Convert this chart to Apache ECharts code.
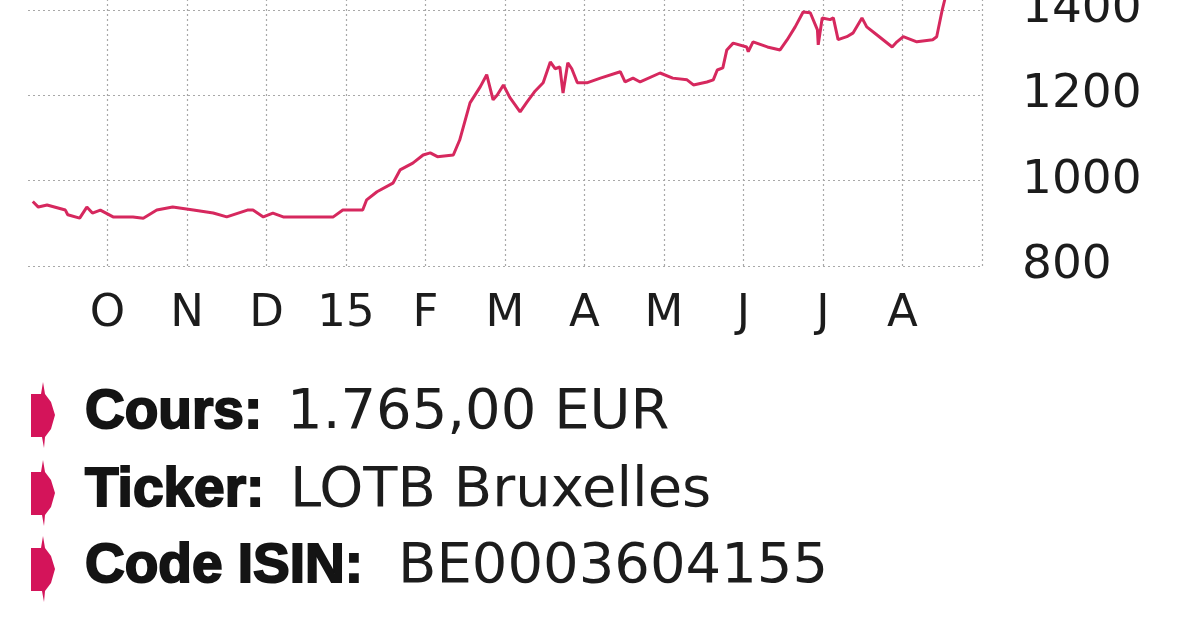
<!DOCTYPE html>
<html>
<head>
<meta charset="utf-8">
<script src="https://cdn.jsdelivr.net/npm/echarts@6/dist/echarts.min.js"></script>
<style>
html,body{margin:0;padding:0;background:#fff;overflow:hidden;width:1200px;height:627px;}
#chart{position:absolute;left:0;top:-161px;width:1200px;height:788px;}
</style>
</head>
<body>
<div id="chart"></div>
<script>
// x position in months since 1 Sep 2014 (1 = Oct, 4 = Jan 2015 ...)
const monthPos = [0.06,0.13,0.24,0.47,0.50,0.65,0.74,0.81,0.91,1.07,1.32,1.45,1.62,1.82,2.08,2.33,2.50,2.76,2.83,2.96,3.08,3.21,3.84,3.96,4.21,4.26,4.39,4.59,4.68,4.84,4.97,5.06,5.15,5.35,5.43,5.56,5.69,5.77,5.85,5.90,5.98,6.06,6.19,6.28,6.38,6.48,6.57,6.63,6.69,6.73,6.79,6.84,6.91,7.03,7.20,7.45,7.51,7.61,7.70,7.95,8.11,8.29,8.37,8.54,8.62,8.67,8.74,8.79,8.87,9.04,9.06,9.12,9.30,9.46,9.55,9.65,9.75,9.84,9.93,9.94,9.99,10.09,10.13,10.19,10.30,10.38,10.49,10.55,10.68,10.87,10.93,11.01,11.18,11.38,11.43,11.50,11.54,11.60,11.66,11.72,11.76];
const prices = [951,938,943,931,920,912,938,924,931,915,915,912,931,938,931,924,915,931,931,915,924,915,915,931,931,955,974,994,1025,1041,1060,1065,1056,1060,1095,1182,1220,1248,1189,1200,1224,1195,1161,1185,1210,1229,1278,1262,1266,1205,1276,1262,1229,1229,1240,1255,1231,1240,1231,1252,1240,1236,1224,1231,1236,1259,1264,1306,1322,1313,1302,1325,1313,1306,1330,1360,1395,1393,1353,1318,1381,1377,1381,1330,1337,1346,1381,1360,1341,1313,1325,1337,1325,1330,1337,1400,1430,1600,1765,1560,1425];
const monthLabels = ['', 'O', 'N', 'D', '15', 'F', 'M', 'A', 'M', 'J', 'J', 'A', ''];
const yTicks = [800, 1000, 1200, 1400, 1600, 1800];
const infoLabels = ['Cours:', 'Ticker:', 'Code ISIN:'];
const infoValues = ['1.765,00 EUR', 'LOTB Bruxelles', 'BE0003604155'];

const chart = echarts.init(document.getElementById('chart'));
const series = monthPos.map((m, i) => [m, prices[i]]);

const OFF = 161; // the chart canvas starts 161px above the visible page
const rowY = [413, 491, 567].map(v => v + OFF);
const valueX = [287, 290, 398];
const graphics = [];
infoLabels.forEach((lab, i) => {
  const cy = rowY[i];
  graphics.push({
    type: 'polygon',
    shape: { points: [[31, cy - 19], [41, cy - 19], [43, cy - 31], [45, cy - 19], [51, cy - 11],
      [55, cy + 2], [51, cy + 16], [45, cy + 24], [44, cy + 35], [42, cy + 24], [31, cy + 24]] },
    style: { fill: '#d4145a' }
  });
  graphics.push({
    type: 'text', x: 85, y: cy,
    style: { text: lab, fontFamily: 'Liberation Sans', fontWeight: 'bold', fontSize: 55,
      fill: '#141414', stroke: '#141414', lineWidth: 2, verticalAlign: 'middle', align: 'left' }
  });
  graphics.push({
    type: 'text', x: valueX[i], y: cy,
    style: { text: infoValues[i], fontFamily: 'DejaVu Sans', fontSize: 56,
      fill: '#1c1c1c', verticalAlign: 'middle', align: 'left' }
  });
});

chart.setOption({
  animation: false,
  backgroundColor: '#ffffff',
  grid: { left: 28, right: 218, top: 0, bottom: 361, containLabel: false, outerBoundsMode: 'none' },
  xAxis: {
    type: 'value', min: 0, max: 12, interval: 1,
    axisLine: { show: false }, axisTick: { show: false },
    axisLabel: {
      show: true, margin: 26, fontFamily: 'DejaVu Sans', fontSize: 45, color: '#1c1c1c',
      showMinLabel: true, showMaxLabel: true,
      formatter: v => monthLabels[Math.round(v)] || ''
    },
    splitLine: { show: true, showMinLine: false, lineStyle: { color: '#a8a8a8', width: 1.2, type: [2, 3] } }
  },
  yAxis: {
    type: 'value', position: 'right', min: yTicks[0], max: yTicks[yTicks.length - 1], interval: 200,
    axisLine: { show: false }, axisTick: { show: false },
    axisLabel: { margin: 40, fontFamily: 'DejaVu Sans', fontSize: 47, color: '#1c1c1c', align: 'left',
      formatter: v => String(v) },
    splitLine: { show: true, lineStyle: { color: '#a8a8a8', width: 1.2, type: [2, 3] } }
  },
  series: [{
    type: 'line', data: series, showSymbol: false, symbol: 'none',
    lineStyle: { color: '#d6285e', width: 3 }, clip: true
  }],
  graphic: graphics
});
</script>
</body>
</html>
